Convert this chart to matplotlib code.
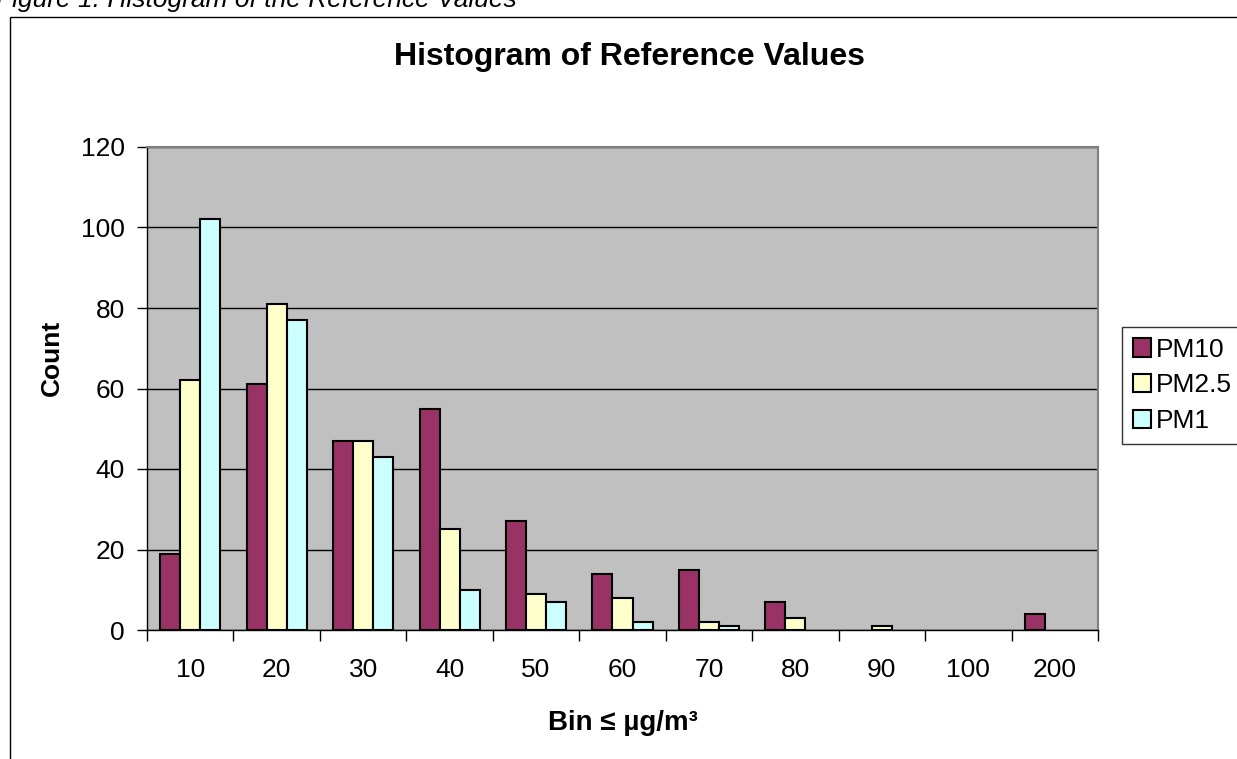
import numpy as np
import matplotlib
matplotlib.use('Agg')
import matplotlib.pyplot as plt
from matplotlib.patches import Rectangle

plt.rcParams['font.family'] = ['Liberation Sans', 'DejaVu Sans']

# Histogram bin labels and counts for each particle size
bins = ['10', '20', '30', '40', '50', '60', '70', '80', '90', '100', '200']
pm10 = [19, 61, 47, 55, 27, 14, 15, 7, 0, 0, 4]
pm25 = [62, 81, 47, 25, 9, 8, 2, 3, 1, 0, 0]
pm1 = [102, 77, 43, 10, 7, 2, 1, 0, 0, 0, 0]

series = [('PM10', pm10, '#993366'), ('PM2.5', pm25, '#FFFFCC'), ('PM1', pm1, '#CCFFFF')]

fig = plt.figure(figsize=(12.37, 7.59), dpi=100)
W, H = 1237, 759

# outer chart border (runs off the right and bottom edges)
fig.patches.append(Rectangle((10 / W, -0.1), 1.2, 1 - 17 / H + 0.1, transform=fig.transFigure,
                             fill=False, edgecolor='black', linewidth=1.0))

# figure caption, cropped at the top like the source
fig.text(-0.003, 1 - 7 / H, 'Figure 1: Histogram of the Reference Values', fontsize=19,
         style='italic', ha='left', va='baseline')

ax = fig.add_axes([147 / W, 1 - 630 / H, (1098 - 147) / W, (630 - 147) / H])
ax.set_facecolor('#C0C0C0')

x = np.arange(len(bins))
bw = 20 / 86.45
for i, (name, vals, col) in enumerate(series):
    bars = ax.bar(x + (i - 1) * bw, vals, width=bw, color=col, edgecolor='black', linewidth=1.5,
                  label=name, zorder=3)
    for b in bars:
        if b.get_height() == 0:
            b.set_visible(False)

ax.set_xlim(-0.5, len(bins) - 0.5)
ax.set_ylim(0, 120)
ax.set_yticks(range(0, 121, 20))
ax.yaxis.grid(True, color='black', linewidth=1.0, zorder=1)
ax.set_axisbelow(True)
ax.tick_params(axis='y', direction='out', length=7, width=1, labelsize=19, pad=9)

# ticks between categories, labels at category centres
ax.set_xticks(np.arange(len(bins) + 1) - 0.5)
ax.set_xticklabels([])
ax.set_xticks(x, minor=True)
ax.set_xticklabels(bins, minor=True)
ax.tick_params(axis='x', which='major', direction='out', length=8, width=1)
ax.tick_params(axis='x', which='minor', length=0, labelsize=19, pad=20)

for s in ['left', 'bottom']:
    ax.spines[s].set_color('black')
    ax.spines[s].set_linewidth(1.0)
for s in ['top', 'right']:
    ax.spines[s].set_color('#808080')
    ax.spines[s].set_linewidth(1.5)

fig.text(630 / W, 1 - 65 / H, 'Histogram of Reference Values', fontsize=23, fontweight='bold',
         ha='center', va='baseline')
fig.text(52 / W, 1 - 358 / H, 'Count', fontsize=19, fontweight='bold', rotation=90,
         ha='center', va='center')
fig.text(623 / W, 1 - 730 / H, 'Bin ≤ µg/m³', fontsize=20, fontweight='bold',
         ha='center', va='baseline')

leg = fig.legend(loc='upper left', bbox_to_anchor=(1122 / W, 1 - 327 / H), fontsize=19,
                 frameon=True, fancybox=False, shadow=False, handlelength=0.7,
                 handleheight=0.7, handletextpad=0.2, labelspacing=0.45, borderpad=0.4,
                 borderaxespad=0)
leg.get_frame().set_edgecolor('black')
leg.get_frame().set_linewidth(1.0)
for p in leg.get_patches():
    p.set_linewidth(1.5)

fig.savefig('out.png', dpi=100)
